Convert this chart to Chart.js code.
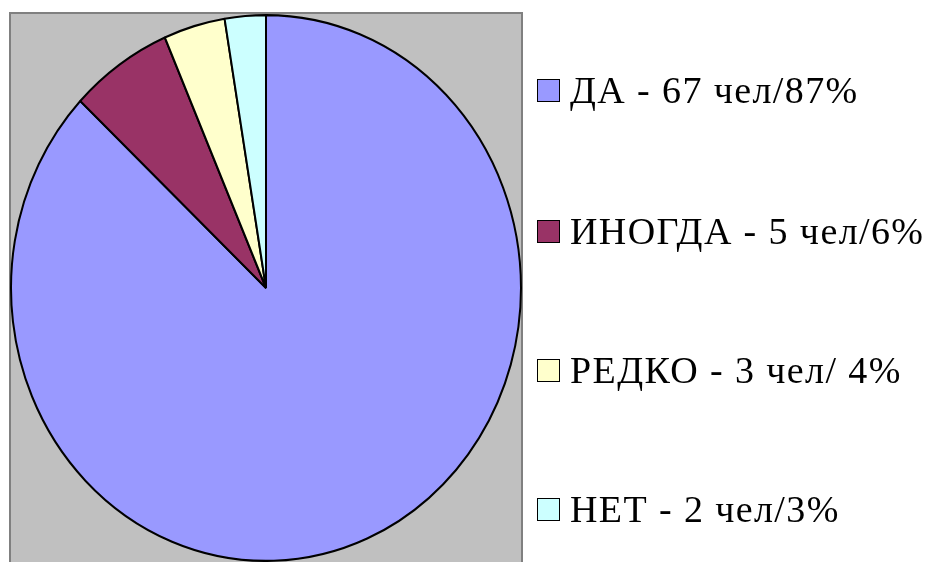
<!DOCTYPE html>
<html>
<head>
<meta charset="utf-8">
<script src="https://cdn.jsdelivr.net/npm/chart.js@4"></script>
<style>
  html, body { margin: 0; padding: 0; background: #ffffff; }
  #wrap { position: relative; width: 933px; height: 562px; overflow: hidden; }
  #c { position: absolute; left: 0; top: 0; }
  .item { position: absolute; left: 537px; height: 40px; display: flex; align-items: center;
          font-family: "Liberation Serif", "Times New Roman", serif; font-size: 38px; letter-spacing: 1.4px;
          color: #000; white-space: pre; }
  .box { width: 21px; height: 21px; border: 1.5px solid #000; margin-right: 10px; flex: none; }
</style>
</head>
<body>
<div id="wrap">
  <canvas id="c" width="933" height="562"></canvas>
</div>
<script>
const categories = ["ДА", "ИНОГДА", "РЕДКО", "НЕТ"];
const counts = [67, 5, 3, 2];
const legendLabels = ["ДА - 67 чел/87%", "ИНОГДА - 5 чел/6%", "РЕДКО - 3 чел/ 4%", "НЕТ - 2 чел/3%"];
const colors = ["#9999FF", "#993366", "#FFFFCC", "#CCFFFF"];

const plotAreaBg = {
  id: 'plotAreaBg',
  beforeDraw(chart) {
    const ctx = chart.ctx;
    ctx.save();
    ctx.fillStyle = '#C0C0C0';
    ctx.fillRect(10, 13, 512, 560);
    ctx.strokeStyle = '#808080';
    ctx.lineWidth = 2;
    ctx.strokeRect(10, 13, 512, 560);
    ctx.restore();
  }
};

const stretch = {
  id: 'stretch',
  beforeDatasetsDraw(chart) {
    const a = chart.chartArea;
    const cx = (a.left + a.right) / 2, cy = (a.top + a.bottom) / 2;
    const r = Math.min(a.right - a.left, a.bottom - a.top) / 2;
    const sy = ((a.bottom - a.top) / 2) / r;
    const ctx = chart.ctx;
    ctx.save();
    ctx.translate(cx, cy);
    ctx.scale(1, sy);
    ctx.translate(-cx, -cy);
  },
  afterDatasetsDraw(chart) {
    chart.ctx.restore();
  }
};

new Chart(document.getElementById('c'), {
  type: 'pie',
  data: {
    labels: categories,
    datasets: [{
      data: counts,
      backgroundColor: colors,
      borderColor: '#000000',
      borderWidth: 2
    }]
  },
  options: {
    responsive: false,
    animation: false,
    layout: { padding: { left: 10, right: 411, top: 14, bottom: 0 } },
    plugins: {
      legend: { display: false },
      tooltip: { enabled: false }
    }
  },
  plugins: [plotAreaBg, stretch]
});

const wrap = document.getElementById('wrap');
const centers = [90, 231, 370, 509];
legendLabels.forEach((lab, i) => {
  const d = document.createElement('div');
  d.className = 'item';
  d.style.top = (centers[i] - 20) + 'px';
  const b = document.createElement('span');
  b.className = 'box';
  b.style.background = colors[i];
  const t = document.createElement('span');
  t.textContent = lab;
  d.appendChild(b);
  d.appendChild(t);
  wrap.appendChild(d);
});
</script>
</body>
</html>
